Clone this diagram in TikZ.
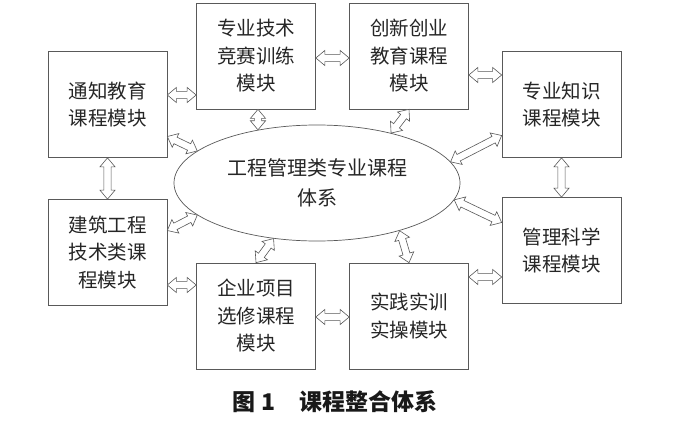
\documentclass[tikz,border=0pt]{standalone}
\usepackage{fontspec}
\newfontfamily\cjk{Noto Sans CJK SC}
\usetikzlibrary{shapes.geometric,shapes.arrows,calc}
\newcommand\hollowarrow[2]{%
  \path let \p1=(#1), \p2=(#2),
    \n1={veclen(\x2-\x1,\y2-\y1)},
    \n2={atan2(\y2-\y1,\x2-\x1)} in
    node[harrowshape, minimum height=\n1, rotate=\n2]
      at ({0.5*\x1+0.5*\x2},{0.5*\y1+0.5*\y2}) {};}
\begin{document}
\begin{tikzpicture}[x=1pt,y=1pt,
  box/.style={draw=black!65, line width=0.7pt, minimum width=119pt,
    minimum height=106pt, align=center, inner sep=0pt,
    font=\cjk\fontsize{19.5}{27.5}\selectfont, text=black!85},
  ell/.style={ellipse, draw=black!65, line width=0.7pt, minimum width=286pt,
    minimum height=116pt, align=center, inner sep=0pt,
    font=\cjk\fontsize{20}{30}\selectfont, text=black!85},
  harrowshape/.style={double arrow, draw=black!65, line width=0.6pt,
    fill=white, inner xsep=0pt, inner ysep=3.3pt,
    double arrow head extend=4pt, double arrow tip angle=80}]
\fill[white] (0,0) rectangle (700,-425);
\useasboundingbox (0,0) rectangle (700,-425);

\node[box] (A) at (107.5,-104.5) {通知教育\\课程模块};
\node[box] (B) at (256,-56) {专业技术\\竞赛训练\\模块};
\node[box] (C) at (409,-56) {创新创业\\教育课程\\模块};
\node[box] (D) at (561.5,-104.5) {专业知识\\课程模块};
\node[box] (E) at (107.5,-252.5) {建筑工程\\技术类课\\程模块};
\node[box] (F) at (256,-316) {企业项目\\选修课程\\模块};
\node[box] (G) at (409,-316) {实践实训\\实操模块};
\node[box] (H) at (561.5,-250.5) {管理科学\\课程模块};
\node[ell] (O) at (317,-183) {工程管理类专业课程\\体系};

% box to box
\hollowarrow{[yshift=9.5pt]A.east}{[yshift=-39pt]B.west}
\hollowarrow{[yshift=-2pt]B.east}{[yshift=-2pt]C.west}
\hollowarrow{[yshift=-19pt]C.east}{[yshift=29.5pt]D.west}
\hollowarrow{A.south}{E.north}
\hollowarrow{D.south}{H.north}
\hollowarrow{[yshift=-32.5pt]E.east}{[yshift=31pt]F.west}
\hollowarrow{[yshift=-1pt]F.east}{[yshift=-1pt]G.west}
\hollowarrow{[yshift=39pt]G.east}{[yshift=-26.5pt]H.west}

% boxes to ellipse
\hollowarrow{[yshift=-32pt]A.east}{O.165}
\hollowarrow{[xshift=2pt]B.south}{O.138}
\hollowarrow{C.south}{O.34}
\hollowarrow{[yshift=-31pt]D.west}{O.9}
\hollowarrow{[yshift=22pt]E.east}{O.195}
\hollowarrow{F.north}{O.232}
\hollowarrow{G.north}{O.-30}
\hollowarrow{[yshift=28pt]H.west}{O.-7.5}

\node[font=\cjk\bfseries\fontsize{23}{23}\selectfont, text=black!90] (T) at (335,-402)
  {图\hspace{6pt}1\hspace{24pt}课程整合体系};
\end{tikzpicture}
\end{document}
